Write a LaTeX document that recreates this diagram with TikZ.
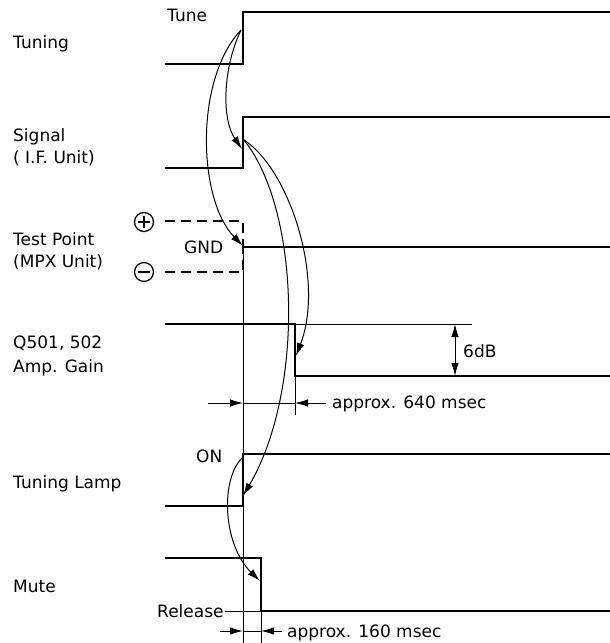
\documentclass[tikz,border=0pt]{standalone}
\usepackage{fontspec}
\setmainfont{DejaVu Sans}
\usetikzlibrary{arrows.meta}
\begin{document}
\begin{tikzpicture}[x=1pt,y=-1pt,
  wave/.style={line width=2.8pt},
  dashwave/.style={line width=2.8pt, dash pattern=on 10pt off 6pt},
  thinline/.style={line width=1pt},
  cause/.style={line width=1pt, -{Latex[length=13pt,width=7.5pt]}},
  dimarrow/.style={line width=1pt, -{Latex[length=13pt,width=7.5pt]}},
  dimboth/.style={line width=1pt, {Latex[length=13pt,width=7.5pt]}-{Latex[length=13pt,width=7.5pt]}},
  lbl/.style={anchor=base west, inner sep=0pt, font=\fontsize{17}{20}\selectfont},
  sign/.style={circle, draw, line width=1.3pt, minimum size=19pt, inner sep=0pt}]
\useasboundingbox (0,0) rectangle (610,643);

% ---- labels ----
\node[lbl] (lTuning) at (13,48) {Tuning};
\node[lbl] (lTune) at (167,21) {Tune};
\node[lbl] (lSignal) at (13,141) {Signal};
\node[lbl] (lIF) at (13,163) {( I.F. Unit)};
\node[lbl] (lTest) at (13,245) {Test Point};
\node[lbl] (lMPX) at (13,267) {(MPX Unit)};
\node[lbl] (lGND) at (184,253) {GND};
\node[lbl] (lQ) at (13,348) {Q501, 502};
\node[lbl] (lAmp) at (13,372) {Amp. Gain};
\node[lbl] (l6dB) at (463,357) {6dB};
\node[lbl] (l640) at (332,408) {approx. 640 msec};
\node[lbl] (lLamp) at (13,488) {Tuning Lamp};
\node[lbl] (lON) at (196,462) {ON};
\node[lbl] (lMute) at (13,592) {Mute};
\node[lbl] (lRel) at (157,617) {Release};
\node[lbl] (l160) at (287,637) {approx. 160 msec};

% ---- plus / minus signs ----
\node[sign] (plus) at (144,222) {};
\draw[line width=1.3pt] ([xshift=4pt]plus.west) -- ([xshift=-4pt]plus.east);
\draw[line width=1.3pt] ([yshift=-4pt]plus.north) -- ([yshift=4pt]plus.south);
\node[sign] (minus) at (144,272) {};
\draw[line width=1.3pt] ([xshift=4pt]minus.west) -- ([xshift=-4pt]minus.east);

% ---- waveforms ----
\draw[wave] (165,64) -- (243,64) -- (243,12) -- (610,12);
\draw[wave] (165,168) -- (243,168) -- (243,117) -- (610,117);
\draw[dashwave] (165,221) -- (243,221) -- (243,247);
\draw[dashwave] (165,272) -- (243,272) -- (243,247);
\draw[wave] (243,247) -- (610,247);
\draw[wave] (165,324) -- (295,324) -- (295,376) -- (610,376);
\draw[thinline] (295,324) -- (472,324);
\draw[wave] (165,506) -- (243,506) -- (243,454) -- (610,454);
\draw[wave] (165,558) -- (261,558) -- (261,611) -- (610,611);

% ---- reference lines ----
\coordinate (vTop) at (243,247);
\coordinate (vBot) at (243,643);
\draw[thinline] (vTop) -- (vBot);
\coordinate (e640a) at (295,376);
\coordinate (e640b) at (295,415);
\draw[thinline] (e640a) -- (e640b);
\coordinate (e160a) at (261,611);
\coordinate (e160b) at (261,643);
\draw[thinline] (e160a) -- (e160b);
\coordinate (relA) at (225,611);
\draw[thinline] (relA) -- (e160a);

% ---- dimension 640 ----
\coordinate (d640L) at (208,403);
\coordinate (d640a) at (243,403);
\coordinate (d640b) at (295,403);
\coordinate (d640R) at (326,403);
\draw[dimarrow] (d640L) -- (d640a);
\draw[thinline] (d640a) -- (d640b);
\draw[dimarrow] (d640R) -- (d640b);

% ---- dimension 6dB ----
\coordinate (db1) at (455,324);
\coordinate (db2) at (455,376);
\draw[dimboth] (db1) -- (db2);

% ---- dimension 160 ----
\coordinate (d160L) at (220,631);
\coordinate (d160a) at (243,631);
\coordinate (d160b) at (261,631);
\coordinate (d160R) at (282,631);
\draw[dimarrow] (d160L) -- (d160a);
\draw[thinline] (d160a) -- (d160b);
\draw[dimarrow] (d160R) -- (d160b);

% ---- cause/effect curves ----
\coordinate (t1) at (241,30);
\coordinate (s1) at (242,149);
\coordinate (s2) at (244,140);
\coordinate (g1) at (243,246);
\coordinate (q1) at (296,356);
\coordinate (l1) at (243,496);
\coordinate (l2) at (242,458);
\coordinate (m1) at (260,581);
\draw[cause] (t1) .. controls (222,70) and (222,120) .. (s1);
\draw[cause] (t1) .. controls (194,80) and (198,200) .. (g1);
\draw[cause] (s2) .. controls (290,170) and (325,280) .. (q1);
\draw[cause] (s2) .. controls (300,210) and (305,390) .. (l1);
\draw[cause] (l2) .. controls (220,480) and (223,545) .. (m1);
\end{tikzpicture}
\end{document}
